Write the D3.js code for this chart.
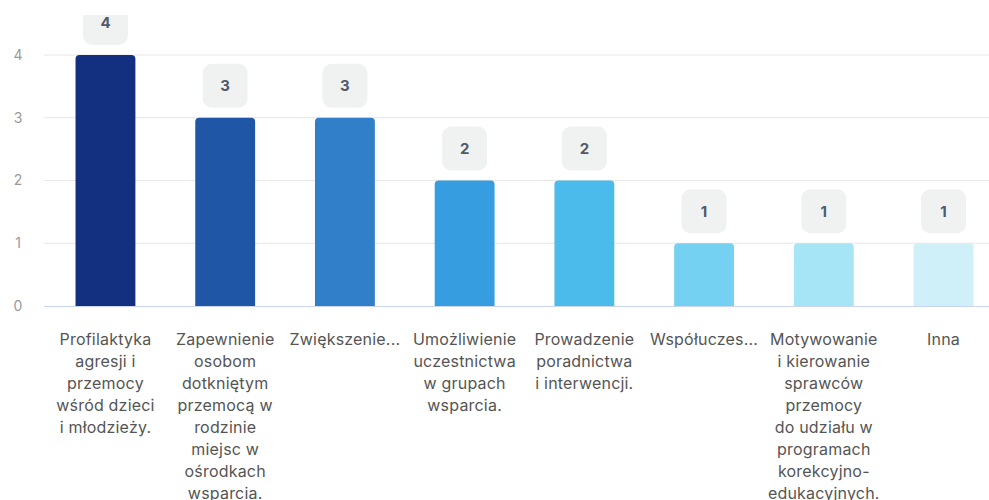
<!DOCTYPE html>
<html>
<head>
<meta charset="utf-8">
<script src="https://cdn.jsdelivr.net/npm/d3@7"></script>
<style>
  html, body { margin: 0; padding: 0; background: #fff; }
  svg { display: block; font-family: Inter, "Noto Sans", sans-serif; }
</style>
</head>
<body>
<svg id="chart" width="989" height="500"></svg>
<script>
// Category labels, already wrapped into lines
const categories = [
  ["Profilaktyka", "agresji i", "przemocy", "wśród dzieci", "i młodzieży."],
  ["Zapewnienie", "osobom", "dotkniętym", "przemocą w", "rodzinie", "miejsc w", "ośrodkach", "wsparcia."],
  ["Zwiększenie..."],
  ["Umożliwienie", "uczestnictwa", "w grupach", "wsparcia."],
  ["Prowadzenie", "poradnictwa", "i interwencji."],
  ["Współuczes..."],
  ["Motywowanie", "i kierowanie", "sprawców", "przemocy", "do udziału w", "programach", "korekcyjno-", "edukacyjnych."],
  ["Inna"]
];
const values = [4, 3, 3, 2, 2, 1, 1, 1];
const yTicks = [0, 1, 2, 3, 4];
const colors = ["#12307f", "#1f56a6", "#317ec9", "#369ee0", "#4abbea", "#74d1f1", "#a6e5f5", "#cff0f8"];

const svg = d3.select("#chart");
const W = 989, H = 500;
const plot = { left: 45.6, right: 1003.4, top: 55, bottom: 306 };

const x = d3.scaleBand()
  .domain(d3.range(values.length))
  .range([plot.left, plot.right])
  .paddingInner(0.5)
  .paddingOuter(0.25);

const y = d3.scaleLinear()
  .domain([0, 4])
  .range([plot.bottom, plot.top]);

// horizontal gridlines
svg.append("g")
  .selectAll("line")
  .data(yTicks.filter(t => t > 0))
  .join("line")
  .attr("x1", 44).attr("x2", W)
  .attr("y1", d => y(d)).attr("y2", d => y(d))
  .attr("stroke", "#e6e6e6").attr("stroke-width", 1);

// y tick labels
svg.append("g")
  .selectAll("text")
  .data(yTicks)
  .join("text")
  .attr("x", 18)
  .attr("y", d => y(d))
  .attr("dy", "0.35em")
  .attr("text-anchor", "middle")
  .attr("font-size", 14)
  .attr("fill", "#9a9a9a")
  .text(d => d);

// bars with rounded top corners
const r = 4;
function barPath(x0, w, yTop, yBase) {
  return `M${x0},${yBase}V${yTop + r}Q${x0},${yTop} ${x0 + r},${yTop}` +
         `H${x0 + w - r}Q${x0 + w},${yTop} ${x0 + w},${yTop + r}V${yBase}Z`;
}
svg.append("g")
  .selectAll("path")
  .data(values)
  .join("path")
  .attr("d", (d, i) => barPath(x(i), x.bandwidth(), y(d), y(0)))
  .attr("fill", (d, i) => colors[i]);

// baseline
svg.append("line")
  .attr("x1", 44).attr("x2", W)
  .attr("y1", y(0) + 0.5).attr("y2", y(0) + 0.5)
  .attr("stroke", "#c9d5ef").attr("stroke-width", 1);

// value badges above bars
svg.append("defs").append("clipPath").attr("id", "plotClip")
  .append("rect").attr("x", 0).attr("y", 15).attr("width", W).attr("height", H - 15);

const boxW = 45, boxH = 44, gap = 10;
const badges = svg.append("g").attr("clip-path", "url(#plotClip)")
  .selectAll("g")
  .data(values)
  .join("g")
  .attr("transform", (d, i) => `translate(${x(i) + x.bandwidth() / 2},${y(d) - gap - boxH})`);

badges.append("rect")
  .attr("x", -boxW / 2).attr("y", 0)
  .attr("width", boxW).attr("height", boxH)
  .attr("rx", 9).attr("ry", 9)
  .attr("fill", "#f0f2f2");

badges.append("text")
  .attr("x", 0).attr("y", boxH / 2)
  .attr("dy", "0.36em")
  .attr("text-anchor", "middle")
  .attr("font-size", 15)
  .attr("font-weight", 700)
  .attr("fill", "#4e5a6e")
  .text(d => d);

// category labels
const lineH = 22;
svg.append("g")
  .selectAll("text")
  .data(categories)
  .join("text")
  .attr("x", (d, i) => x(i) + x.bandwidth() / 2)
  .attr("y", 345)
  .attr("text-anchor", "middle")
  .attr("font-size", 16)
  .attr("letter-spacing", 0.2)
  .attr("fill", "#555")
  .each(function (lines) {
    const t = d3.select(this);
    const cx = t.attr("x");
    lines.forEach((ln, k) => {
      t.append("tspan").attr("x", cx).attr("dy", k === 0 ? 0 : lineH).text(ln);
    });
  });
</script>
</body>
</html>
